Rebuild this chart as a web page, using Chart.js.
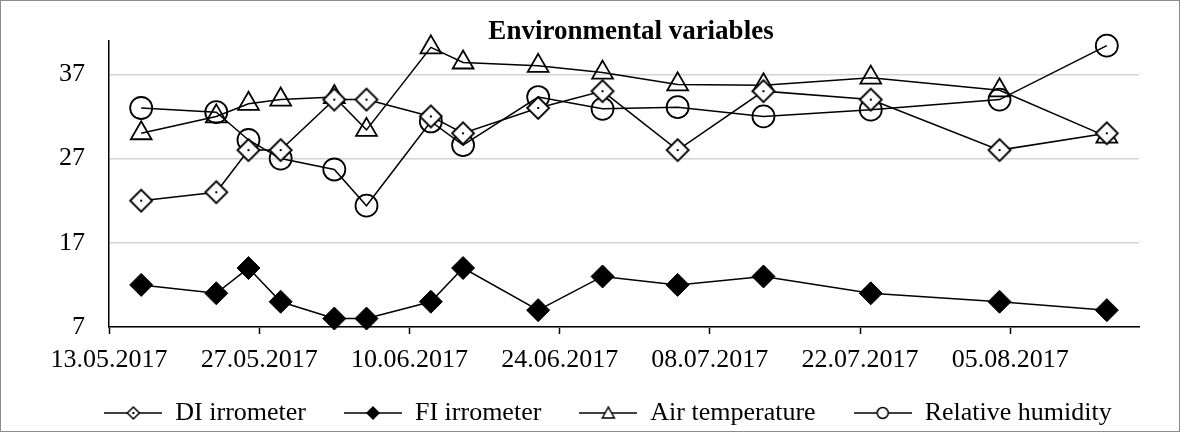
<!DOCTYPE html>
<html>
<head>
<meta charset="utf-8">
<script src="https://cdn.jsdelivr.net/npm/chart.js@4.4.1/dist/chart.umd.min.js"></script>
<style>
  html, body { margin: 0; padding: 0; background: #fff; }
  #wrap { width: 1180px; height: 432px; border: 1px solid #8c8c8c; box-sizing: border-box; }
  canvas { display: block; }
</style>
</head>
<body>
<div id="wrap"><canvas id="grafico" width="1178" height="430"></canvas></div>
<script>
// datos
var fechaInicio = '13.05.2017';
var fechas = ['16.05.2017', '23.05.2017', '26.05.2017', '29.05.2017', '03.06.2017', '06.06.2017',
              '12.06.2017', '15.06.2017', '22.06.2017', '28.06.2017', '05.07.2017', '13.07.2017',
              '23.07.2017', '04.08.2017', '14.08.2017'];
var etiquetasX = ['13.05.2017', '27.05.2017', '10.06.2017', '24.06.2017', '08.07.2017', '22.07.2017', '05.08.2017'];
var etiquetasY = [7, 17, 27, 37];

var diIrrometer = [22, 23, 28, 28, 34, 34, 32, 30, 33, 35, 28, 35, 34, 28, 30];
var fiIrrometer = [12, 11, 14, 10, 8, 8, 10, 14, 9, 13, 12, 13, 11, 10, 9];
var airTemperature = [30, 32, 33.5, 34, 34.3, 30.4, 40.2, 38.4, 38, 37.2, 35.8, 35.7, 36.6, 35.1, 29.6];
var relativeHumidity = [33, 32.5, 29.2, 27, 25.7, 21.4, 31.4, 28.6, 34.3, 32.9, 33.1, 32, 32.8, 34, 40.4];

var fuente = "'Liberation Serif', 'Times New Roman', serif";

function dias(s) {
    var p = s.split('.');
    var base = fechaInicio.split('.');
    return (Date.UTC(+p[2], p[1] - 1, +p[0]) - Date.UTC(+base[2], base[1] - 1, +base[0])) / 86400000;
}
function puntos(valores) {
    return fechas.map(function (f, i) { return { x: dias(f), y: valores[i] }; });
}

// marcador del DI: rombo blanco con punto
function marcadorRombo(r) {
    var c = document.createElement('canvas');
    c.width = 2 * r + 4; c.height = 2 * r + 4;
    var g = c.getContext('2d');
    var m = r + 2;
    g.beginPath();
    g.moveTo(m - r, m); g.lineTo(m, m - r); g.lineTo(m + r, m); g.lineTo(m, m + r); g.closePath();
    g.fillStyle = '#fff'; g.fill();
    g.lineWidth = 1.8; g.strokeStyle = '#000'; g.stroke();
    g.fillStyle = '#000';
    g.fillRect(m - 1, m - 1, 2, 2);
    return c;
}

// simbolos de la leyenda (linea + marcador)
function simboloLeyenda(tipo) {
    var c = document.createElement('canvas');
    c.width = 58; c.height = 18;
    var g = c.getContext('2d');
    var cx = 29, cy = 9;
    g.strokeStyle = '#000'; g.lineWidth = 1.5;
    g.beginPath(); g.moveTo(0, cy); g.lineTo(58, cy); g.stroke();
    g.beginPath();
    if (tipo === 'di') {
        g.moveTo(cx - 6, cy); g.lineTo(cx, cy - 6); g.lineTo(cx + 6, cy); g.lineTo(cx, cy + 6); g.closePath();
        g.fillStyle = '#fff'; g.fill(); g.stroke();
        g.fillStyle = '#000'; g.fillRect(cx - 1, cy - 1, 2, 2);
    } else if (tipo === 'fi') {
        g.moveTo(cx - 7, cy); g.lineTo(cx, cy - 7); g.lineTo(cx + 7, cy); g.lineTo(cx, cy + 7); g.closePath();
        g.fillStyle = '#000'; g.fill();
    } else if (tipo === 'tri') {
        g.moveTo(cx, cy - 6); g.lineTo(cx + 6, cy + 5); g.lineTo(cx - 6, cy + 5); g.closePath();
        g.fillStyle = '#fff'; g.fill(); g.stroke();
    } else {
        g.arc(cx, cy, 5.5, 0, Math.PI * 2);
        g.fillStyle = '#fff'; g.fill(); g.stroke();
    }
    return c;
}
var simbolos = [simboloLeyenda('di'), simboloLeyenda('fi'), simboloLeyenda('tri'), simboloLeyenda('circ')];

var tituloPlugin = {
    id: 'titulo',
    afterLayout: function (chart) {
        // la leyenda del original esta algo desplazada (derecha y arriba)
        var l = chart.legend;
        l.left += 38; l.right += 38;
        l.top -= 11; l.bottom -= 11;
    },
    afterDraw: function (chart) {
        var ctx = chart.ctx;
        ctx.save();
        ctx.font = 'bold 27px ' + fuente;
        ctx.fillStyle = '#000';
        ctx.textAlign = 'center';
        ctx.textBaseline = 'alphabetic';
        ctx.fillText('Environmental variables', 630, 38);
        ctx.restore();
    }
};

var ctx = document.getElementById('grafico').getContext('2d');
var grafico = new Chart(ctx, {
    type: 'line',
    data: {
        datasets: [{
            label: 'DI irrometer',
            data: puntos(diIrrometer),
            borderColor: '#000', borderWidth: 1.5, clip: false,
            pointStyle: marcadorRombo(11), pointRadius: 11
        }, {
            label: 'FI irrometer',
            data: puntos(fiIrrometer),
            borderColor: '#000', borderWidth: 1.5, clip: false,
            pointStyle: 'rectRot', pointRadius: 11.5,
            pointBackgroundColor: '#000', pointBorderColor: '#000', pointBorderWidth: 1
        }, {
            label: 'Air temperature',
            data: puntos(airTemperature),
            borderColor: '#000', borderWidth: 1.5, clip: false,
            pointStyle: 'triangle', pointRadius: 12,
            pointBackgroundColor: 'rgba(0,0,0,0)', pointBorderColor: '#000', pointBorderWidth: 1.8
        }, {
            label: 'Relative humidity',
            data: puntos(relativeHumidity),
            borderColor: '#000', borderWidth: 1.5, clip: false,
            pointStyle: 'circle', pointRadius: 11,
            pointBackgroundColor: 'rgba(0,0,0,0)', pointBorderColor: '#000', pointBorderWidth: 1.8
        }]
    },
    options: {
        responsive: false,
        animation: false,
        devicePixelRatio: 1,
        layout: { padding: { left: 0, right: 40, top: 37, bottom: -16 } },
        plugins: {
            tooltip: { enabled: false },
            legend: {
                position: 'bottom',
                labels: {
                    usePointStyle: true,
                    pointStyleWidth: 58,
                    padding: 38,
                    color: '#000',
                    font: { family: fuente, size: 26 },
                    generateLabels: function (chart) {
                        var items = Chart.defaults.plugins.legend.labels.generateLabels(chart);
                        items.forEach(function (it, i) { it.pointStyle = simbolos[i]; });
                        return items;
                    }
                }
            }
        },
        scales: {
            x: {
                type: 'linear',
                min: 0,
                max: 96,
                ticks: {
                    stepSize: 14,
                    padding: 11,
                    color: '#000',
                    font: { family: fuente, size: 26 },
                    maxRotation: 0,
                    callback: function (v) { return etiquetasX[v / 14]; }
                },
                afterBuildTicks: function (s) {
                    s.ticks = etiquetasX.map(function (t, i) { return { value: i * 14 }; });
                },
                afterFit: function (s) { s.height = 46; },
                grid: { drawOnChartArea: false, drawTicks: true, tickLength: 7, tickColor: '#000', tickWidth: 1.5 },
                border: { color: '#000', width: 1.5 }
            },
            y: {
                min: 7,
                max: 41,
                ticks: {
                    padding: 24,
                    color: '#000',
                    font: { family: fuente, size: 26 }
                },
                afterBuildTicks: function (s) {
                    s.ticks = etiquetasY.map(function (v) { return { value: v }; });
                },
                afterFit: function (s) { s.width = 108; },
                grid: { color: '#d4d4d4', lineWidth: 1.5, drawTicks: false },
                border: { color: '#000', width: 1.5 }
            }
        }
    },
    plugins: [tituloPlugin]
});
</script>
</body>
</html>
